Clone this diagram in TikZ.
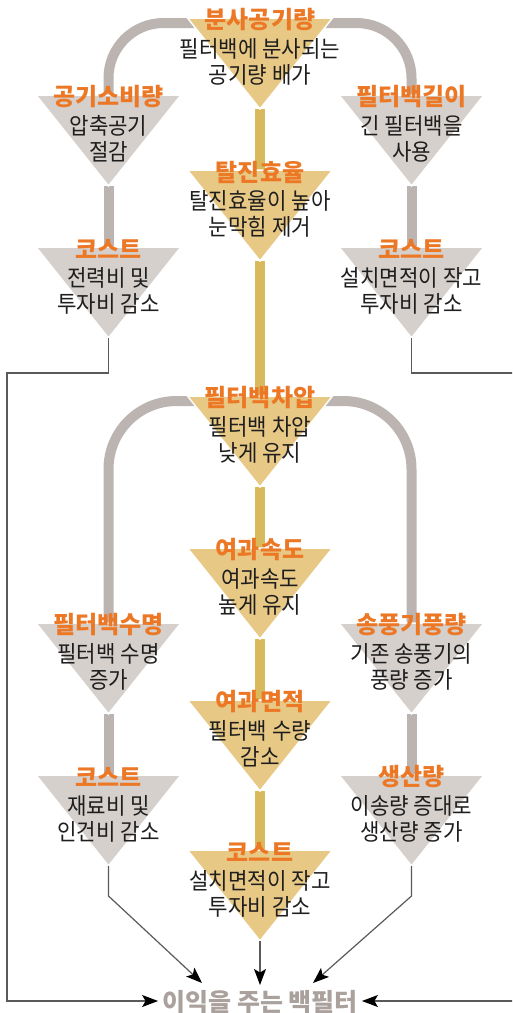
\documentclass[tikz,border=0pt]{standalone}
\usepackage{fontspec}
\setmainfont{Noto Sans CJK KR}
\newfontfamily\bodyfont[FakeStretch=0.92]{Noto Sans CJK KR}
\newfontfamily\titlefont{Noto Sans CJK KR}
\usetikzlibrary{arrows.meta,calc}
\pgfdeclarelayer{background}
\pgfsetlayers{background,main}
\definecolor{goldf}{HTML}{E8C885}
\definecolor{goldl}{HTML}{D8B95C}
\definecolor{grayf}{HTML}{D6D0CC}
\definecolor{grayl}{HTML}{BCB4B0}
\definecolor{ttlc}{HTML}{EC7826}
\definecolor{txtc}{HTML}{1E1E1E}
\definecolor{thinc}{HTML}{5A5A5A}
\definecolor{goalc}{HTML}{AAA19D}
\tikzset{
  goldtri/.style={fill=goldf, draw=white, line width=1.5pt, line join=miter},
  graytri/.style={fill=grayf, draw=white, line width=1.5pt, line join=miter},
  ttl/.style={font=\titlefont\bfseries\fontsize{24}{24}\selectfont, text=ttlc, inner sep=0pt},
  bodytxt/.style={font=\bodyfont\fontsize{23}{23}\selectfont, text=txtc, inner sep=0pt},
  goldline/.style={draw=goldl, line width=10pt},
  grayline/.style={draw=grayl, line width=10pt},
  thinline/.style={draw=thinc, line width=1.2pt},
  arr/.style={thinline, -{Stealth[length=16pt,width=12pt,inset=3.5pt,color=black]}},
  goaltxt/.style={font=\titlefont\bfseries\fontsize{25}{25}\selectfont, text=goalc, inner sep=4pt}
}
% name, x, top, style, title, line1, line2
\newcommand\mytri[7]{%
  \path[#4] ({#2-72.5},#3) -- ({#2+72.5},#3) -- (#2,{#3+91}) -- cycle;
  \coordinate (#1-t) at (#2,#3);
  \coordinate (#1-a) at (#2,{#3+91});
  \node[ttl] (#1-ttl) at (#2,{#3+2}) {#5};
  \node[bodytxt] (#1-l1) at (#2,{#3+31}) {#6};
  \node[bodytxt] (#1-l2) at (#2,{#3+57}) {#7};
}
\begin{document}
\begin{tikzpicture}[x=1pt,y=-1pt]
\path[use as bounding box] (0,0) rectangle (512,1013);
\clip (0,0) rectangle (512,1013);

\mytri{A}{260}{18}{goldtri}{분사공기량}{필터백에 분사되는}{공기량 배가}
\mytri{B}{108.5}{95}{graytri}{공기소비량}{압축공기}{절감}
\mytri{C}{411.5}{95}{graytri}{필터백길이}{긴 필터백을}{사용}
\mytri{D}{260}{170}{goldtri}{탈진효율}{탈진효율이 높아}{눈막힘 제거}
\mytri{E}{108.5}{247}{graytri}{코스트}{전력비 및}{투자비 감소}
\mytri{F}{411.5}{247}{graytri}{코스트}{설치면적이 작고}{투자비 감소}
\mytri{G}{260}{396}{goldtri}{필터백차압}{필터백 차압}{낮게 유지}
\mytri{H}{260}{548}{goldtri}{여과속도}{여과속도}{높게 유지}
\mytri{I}{108.5}{623}{graytri}{필터백수명}{필터백 수명}{증가}
\mytri{J}{411.5}{623}{graytri}{송풍기풍량}{기존 송풍기의}{풍량 증가}
\mytri{K}{260}{700}{goldtri}{여과면적}{필터백 수량}{감소}
\mytri{L}{108.5}{775}{graytri}{코스트}{재료비 및}{인건비 감소}
\mytri{M}{411.5}{775}{graytri}{생산량}{이송량 증대로}{생산량 증가}
\mytri{N}{260}{850}{goldtri}{코스트}{설치면적이 작고}{투자비 감소}

\node[goaltxt] (goal) at (260,1002) {이익을 주는 백필터};

\coordinate (leftrail) at (7,373);
\coordinate (rightrail) at (516,373);
\coordinate (goalL) at (202,983);
\coordinate (goalC) at (260,985);
\coordinate (goalR) at (313,983);

\begin{pgfonlayer}{background}
  \fill[white] (0,0) rectangle (512,1013);
  % thick gray branches
  \draw[grayline, rounded corners=55pt] (B-t) |- ([yshift=-5pt]A-t) -| (C-t);
  \draw[grayline] (B-a) -- (E-t);
  \draw[grayline] (C-a) -- (F-t);
  \draw[grayline, rounded corners=68pt] (I-t) |- ([yshift=-5pt]G-t) -| (J-t);
  \draw[grayline] (I-a) -- (L-t);
  \draw[grayline] (J-a) -- (M-t);
  % thick gold spine
  \draw[goldline] (A-a) -- (D-t);
  \draw[goldline] (D-a) -- (G-t);
  \draw[goldline] (G-a) -- (H-t);
  \draw[goldline] (H-a) -- (K-t);
  \draw[goldline] (K-a) -- (N-t);
\end{pgfonlayer}

% thin connectors to the goal
\draw[arr] (E-a) |- (leftrail) |- ([yshift=1pt]goal.west);
\draw[arr] (F-a) |- (rightrail) |- ([yshift=1pt]goal.east);
\draw[arr] (L-a) -- ++(0,30) -- (goalL);
\draw[arr] (N-a) -- (goalC);
\draw[arr] (M-a) -- ++(0,30) -- (goalR);
\end{tikzpicture}
\end{document}
